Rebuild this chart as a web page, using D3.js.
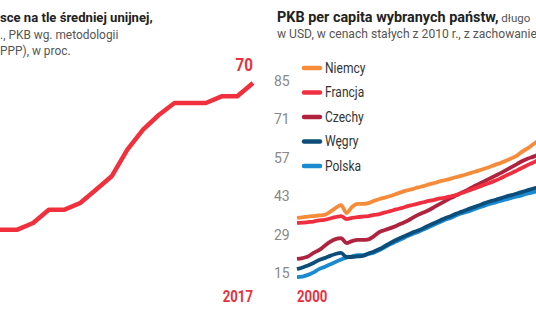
<!DOCTYPE html>
<html>
<head>
<meta charset="utf-8">
<script src="https://cdn.jsdelivr.net/npm/d3@7/dist/d3.min.js"></script>
<style>
  body { margin: 0; background: #fff; }
  svg { display: block; }
  text { font-family: "Roboto", "Liberation Sans", sans-serif; }
</style>
</head>
<body>
<div id="chart"></div>
<script>
const W = 536, H = 332

// left panel: Poland vs EU average, PPP, %
const euYears = d3.range(2000, 2018)
const euShare = [48, 48, 48, 49, 51, 51, 52, 54, 56, 60, 63, 65.2, 67, 67, 67, 68, 68, 70]

// right panel: GDP per capita, USD thousand (2010 prices)
const years = d3.range(2000, 2045)
const germany = [35.2, 35.4, 35.7, 35.9, 36.1, 36.3, 37.4, 38.8, 39.9, 37.0,
  39.2, 40.3, 40.3, 40.6, 41.4, 42.1, 42.6, 43.2, 43.9, 44.6,
  45.2, 45.7, 46.3, 46.8, 47.4, 47.9, 48.5, 49.0, 49.5, 50.1,
  50.6, 51.2, 51.8, 52.4, 53.1, 53.7, 54.5, 55.2, 56.0, 56.9,
  57.9, 59.4, 60.6, 62.1, 63.5]
const france = [33.4, 33.5, 33.7, 33.9, 34.3, 34.5, 35.0, 35.5, 35.9, 34.8,
  35.2, 35.5, 35.7, 35.9, 36.3, 36.6, 37.2, 37.7, 38.3, 38.8,
  39.4, 39.9, 40.4, 40.9, 41.4, 41.8, 42.3, 42.6, 43.1, 43.6,
  44.3, 45.0, 45.7, 46.5, 47.2, 47.9, 48.7, 49.6, 50.6, 51.5,
  52.5, 53.5, 54.5, 55.4, 56.5]
const czechia = [20.3, 20.6, 21.2, 22.5, 23.5, 25.0, 26.5, 27.5, 27.9, 26.1,
  26.8, 27.2, 27.2, 27.4, 28.6, 30.1, 30.8, 31.5, 32.3, 33.2,
  34.1, 35.2, 36.3, 37.2, 38.1, 39.2, 40.3, 41.4, 42.5, 43.4,
  44.5, 45.4, 46.5, 47.5, 48.5, 49.5, 50.5, 51.5, 52.6, 53.7,
  54.8, 55.9, 56.8, 57.5, 58.3]
const hungary = [16.6, 17.2, 17.9, 18.8, 19.9, 20.6, 21.4, 22.1, 22.5, 21.0,
  21.0, 21.2, 21.4, 22.3, 23.0, 23.9, 25.0, 26.1, 27.2, 28.1,
  29.0, 29.9, 30.6, 31.5, 32.5, 33.4, 34.3, 35.2, 35.9, 36.8,
  37.5, 38.3, 39.0, 39.7, 40.5, 41.2, 41.7, 42.3, 43.0, 43.5,
  44.1, 44.7, 45.3, 45.9, 46.5]
const poland = [13.7, 13.9, 14.5, 15.4, 16.6, 17.4, 18.3, 19.2, 20.1, 20.8,
  21.2, 21.7, 21.7, 22.1, 22.6, 23.5, 24.6, 25.7, 26.6, 27.5,
  28.5, 29.4, 30.1, 31.0, 31.9, 32.8, 33.7, 34.6, 35.3, 36.2,
  36.9, 37.5, 38.2, 38.9, 39.6, 40.3, 40.8, 41.4, 41.9, 42.5,
  43.0, 43.5, 44.1, 44.6, 45.1]

const countries = ['Niemcy', 'Francja', 'Czechy', 'Węgry', 'Polska']
const countryValues = [germany, france, czechia, hungary, poland]
const colors = ['#f68b3a', '#ef2f3f', '#b0233f', '#0d4d7a', '#1b8bd1']
const yTicks = [15, 29, 43, 57, 71, 85]

const svg = d3.select('#chart').append('svg')
  .attr('width', W)
  .attr('height', H)

// narrow text: squeeze horizontally to get a condensed look
function narrowText(parent, x, y, sx) {
  return parent.append('text')
    .attr('transform', `translate(${x},${y}) scale(${sx},1)`)
}

// ---- left panel ----
const xl = d3.scaleLinear().domain([2000, 2017]).range([-14, 253])
const yl = d3.scaleLinear().domain([40, 70]).range([283, 83])

const left = svg.append('g')
left.append('text')
  .attr('x', 0).attr('y', 22)
  .attr('font-size', 13.1).attr('font-weight', 'bold').attr('fill', '#222')
  .text('sce na tle średniej unijnej,')
left.append('text')
  .attr('x', 0).attr('y', 39)
  .attr('font-size', 11.9).attr('fill', '#555')
  .text('., PKB wg. metodologii')
left.append('text')
  .attr('x', 0).attr('y', 55)
  .attr('font-size', 11.9).attr('fill', '#555')
  .text('PPP), w proc.')

const lineL = d3.line()
  .x((d, i) => xl(euYears[i]))
  .y(d => yl(d))
left.append('path')
  .attr('d', lineL(euShare))
  .attr('fill', 'none')
  .attr('stroke', '#f0303d')
  .attr('stroke-width', 4.5)
  .attr('stroke-linejoin', 'round')

const lastEu = euShare[euShare.length - 1]
narrowText(left, xl(2017), yl(lastEu) - 12, 0.8)
  .attr('text-anchor', 'end')
  .attr('font-size', 19).attr('font-weight', 'bold').attr('fill', '#e8313e')
  .text(lastEu)
narrowText(left, xl(2017), 302, 0.8)
  .attr('text-anchor', 'end')
  .attr('font-size', 16.5).attr('font-weight', 'bold').attr('fill', '#e8313e')
  .text('2017')

// ---- right panel ----
const xr = d3.scaleLinear().domain([2000, 2044]).range([297, 539])
const yr = d3.scaleLinear().domain([15, 85]).range([273.5, 81])

const right = svg.append('g')
const title = right.append('text')
  .attr('x', 277).attr('y', 22)
  .attr('fill', '#222')
title.append('tspan').attr('font-size', 14.4).attr('font-weight', 'bold').text('PKB per capita wybranych państw,')
title.append('tspan').attr('font-size', 11.5).attr('fill', '#555').text(' długo')
right.append('text')
  .attr('x', 277).attr('y', 38)
  .attr('font-size', 12.1).attr('fill', '#555')
  .text('w USD, w cenach stałych z 2010 r., z zachowanie')

const yAxis = d3.axisLeft(yr).tickValues(yTicks).tickSize(0).tickPadding(0)
right.append('g')
  .attr('transform', 'translate(274,0)')
  .call(yAxis)
  .call(g => g.select('.domain').remove())
  .call(g => g.selectAll('text')
    .attr('text-anchor', 'start')
    .attr('font-size', 14)
    .attr('font-family', null)
    .attr('fill', '#888'))

const lineR = d3.line()
  .x((d, i) => xr(years[i]))
  .y(d => yr(d))
  .curve(d3.curveMonotoneX)

// drawn back to front so Germany sits on top
const order = [4, 3, 2, 1, 0]
right.selectAll('path.series')
  .data(order)
  .join('path')
  .attr('class', 'series')
  .attr('d', i => lineR(countryValues[i]))
  .attr('fill', 'none')
  .attr('stroke', i => colors[i])
  .attr('stroke-width', 3.8)
  .attr('stroke-linejoin', 'round')

narrowText(right, xr(2000), 302, 0.8)
  .attr('font-size', 16.5).attr('font-weight', 'bold').attr('fill', '#e8313e')
  .text('2000')

// legend
const legend = right.selectAll('g.legend')
  .data(countries)
  .join('g')
  .attr('class', 'legend')
  .attr('transform', (d, i) => `translate(302,${68 + i * 24.5})`)
legend.append('line')
  .attr('x1', 2).attr('x2', 18)
  .attr('stroke', (d, i) => colors[i])
  .attr('stroke-width', 4.5)
  .attr('stroke-linecap', 'round')
legend.append('text')
  .attr('transform', 'translate(23,0) scale(0.86,1)')
  .attr('dy', '0.35em')
  .attr('font-size', 14).attr('fill', '#333')
  .text(d => d)
</script>
</body>
</html>
